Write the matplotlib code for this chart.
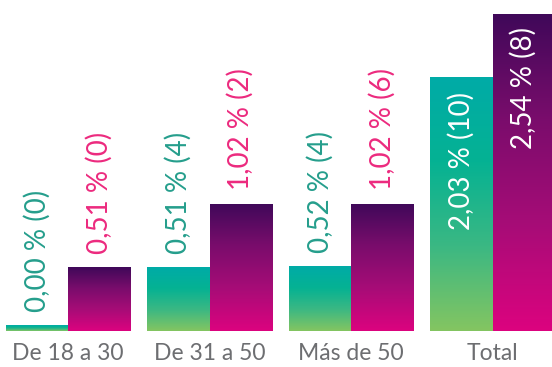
import matplotlib
matplotlib.use("Agg")
import matplotlib.pyplot as plt
import numpy as np
from matplotlib.colors import LinearSegmentedColormap

# datos por grupo de edad
grupos = ["De 18 a 30", "De 31 a 50", "Más de 50", "Total"]
serie_a = [0.00, 0.51, 0.52, 2.03]
casos_a = [0, 4, 4, 10]
serie_b = [0.51, 1.02, 1.02, 2.54]
casos_b = [0, 2, 6, 8]

verde = LinearSegmentedColormap.from_list(
    "verde", ["#84c561", "#3bb883", "#05b293", "#00aba7"])
morado = LinearSegmentedColormap.from_list(
    "morado", ["#dc037f", "#a70c77", "#7a0d6c", "#3f0859"])
col_txt_a = "#259e8c"
col_txt_b = "#ec2a7e"
col_eje = "#6d6e71"

fig = plt.figure(figsize=(5.52, 3.67), dpi=100)
ax = fig.add_axes([0, 36 / 367, 1, 331 / 367])

x = np.arange(len(grupos))
w = 0.44
grad = np.linspace(0, 1, 256).reshape(-1, 1)


def barras_gradiente(xs, vals, cmap):
    # altura mínima para que el 0,00 se vea como una línea
    alturas = [max(v, 0.045) for v in vals]
    bars = ax.bar(xs, alturas, width=w, color="none", edgecolor="none")
    for b in bars:
        x0, y0 = b.get_x(), b.get_y()
        im = ax.imshow(grad, cmap=cmap, origin="lower", aspect="auto",
                       extent=[x0, x0 + b.get_width(), y0, y0 + b.get_height()],
                       zorder=1)
        im.set_clip_path(b)
    return bars


barras_gradiente(x - w / 2, serie_a, verde)
barras_gradiente(x + w / 2, serie_b, morado)

fuente = "Lato"
fs = 20
off = 0.105
for i in range(len(grupos)):
    ta = f"{serie_a[i]:.2f}".replace(".", ",") + f" % ({casos_a[i]})"
    tb = f"{serie_b[i]:.2f}".replace(".", ",") + f" % ({casos_b[i]})"
    ha_a = max(serie_a[i], 0.045)
    if grupos[i] == "Total":
        ax.text(x[i] - w / 2, ha_a - 0.12, ta, rotation=90, ha="center",
                va="top", color="white", fontsize=fs, family=fuente, zorder=3)
        ax.text(x[i] + w / 2, serie_b[i] - 0.11, tb, rotation=90, ha="center",
                va="top", color="white", fontsize=fs, family=fuente, zorder=3)
    else:
        ax.text(x[i] - w / 2, ha_a + off, ta, rotation=90, ha="center",
                va="bottom", color=col_txt_a, fontsize=fs, family=fuente, zorder=3)
        ax.text(x[i] + w / 2, serie_b[i] + off, tb, rotation=90, ha="center",
                va="bottom", color=col_txt_b, fontsize=fs, family=fuente, zorder=3)

ax.set_xlim(-68 / 141.5, 3 + 59.5 / 141.5)
ax.set_ylim(0, 331 / 125)
ax.set_xticks(x)
ax.set_xticklabels(grupos, fontsize=16.5, family=fuente, color=col_eje)
ax.tick_params(axis="x", length=0, pad=9)
ax.set_yticks([])
for s in ax.spines.values():
    s.set_visible(False)

fig.savefig("out.png", dpi=100)
